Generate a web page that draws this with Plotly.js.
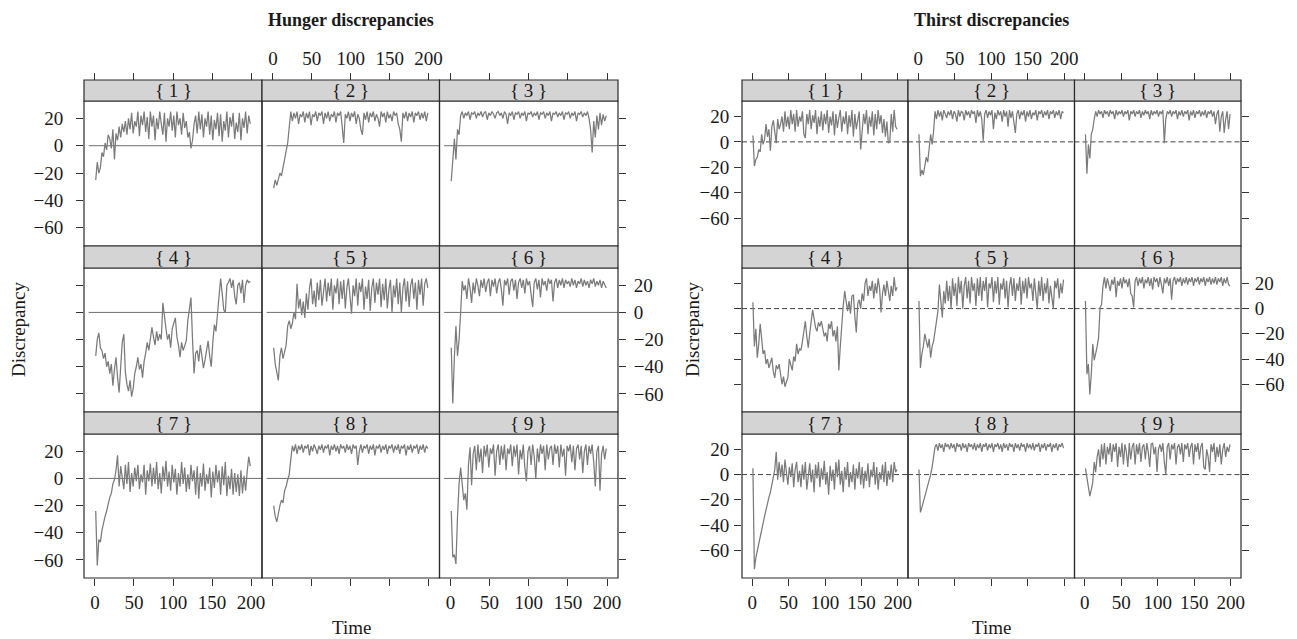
<!DOCTYPE html>
<html><head><meta charset="utf-8">
<script src="https://cdn.plot.ly/plotly-3.0.1.min.js"></script>
<style>html,body{margin:0;padding:0;background:#fff}</style>
</head><body><div id="chart" style="width:1297px;height:639px"></div>
<script>
// Time points (every 2nd step)
const TIME = [1,3,5,7,9,11,13,15,17,19,21,23,25,27,29,31,33,35,37,39,41,43,45,47,49,51,53,55,57,59,61,63,65,67,69,71,73,75,77,79,81,83,85,87,89,91,93,95,97,99,101,103,105,107,109,111,113,115,117,119,121,123,125,127,129,131,133,135,137,139,141,143,145,147,149,151,153,155,157,159,161,163,165,167,169,171,173,175,177,179,181,183,185,187,189,191,193,195,197,199];
const X_TICKS = [0,50,100,150,200];
const Y_TICKS = [-60,-40,-20,0,20];
const STRIP_LABELS = ['{ 1 }','{ 2 }','{ 3 }','{ 4 }','{ 5 }','{ 6 }','{ 7 }','{ 8 }','{ 9 }'];
const FIG_TITLES = ['Hunger discrepancies','Thirst discrepancies'];

// Hunger discrepancies, subjects 1-9
const hunger1 = [-25,-12,-20,-16,-5,-8,2,-3,8,5, -2,12,-10,9,4,14,6,16,10,18, 8,20,12,24,9,18,14,25,7,22, 15,25,10,21,5,25,14,22,4,20, 12,25,16,8,24,3,20,14,25,11, 22,6,25,15,20,8,24,13,18,6, 10,-2,4,16,22,9,25,12,23,6, 20,14,25,8,22,4,19,12,24,7, 23,3,18,11,25,6,21,14,24,5, 17,10,24,4,20,13,25,9,22,16];
const hunger2 = [-31,-25,-29,-24,-20,-22,-15,-10,-4,2, 12,25,18,24,20,25,16,23,21,25, 17,24,20,25,15,23,21,25,18,24, 22,25,16,24,20,25,18,23,21,25, 17,24,22,25,14,2,23,20,25,18, 24,21,25,16,23,20,12,8,24,19, 25,17,24,21,25,18,23,20,14,25, 21,24,17,25,20,23,18,25,22,24, 16,12,3,24,20,25,18,24,21,25, 17,24,22,25,19,24,20,25,18,24];
const hunger3 = [-26,-8,5,-10,12,8,22,25,20,24, 22,25,19,24,23,25,20,24,22,25, 21,24,25,19,24,22,25,23,20,24, 25,22,24,20,25,23,16,24,22,25, 19,24,23,25,20,24,22,25,18,24, 23,25,21,24,22,25,19,24,23,25, 20,24,22,25,18,24,23,25,21,24, 22,25,19,24,23,25,20,24,22,25, 18,24,23,25,21,24,22,25,20,12, -5,18,6,22,12,24,15,23,18,22];
const hunger4 = [-32,-20,-15,-26,-28,-34,-30,-40,-36,-45, -38,-54,-42,-33,-48,-59,-40,-22,-16,-44, -53,-58,-50,-62,-56,-45,-40,-33,-42,-38, -48,-36,-30,-22,-28,-20,-11,-18,-24,-14, -21,-16,-20,7,-4,-12,-20,-16,-26,-12, -8,-4,-18,-24,-33,-22,-28,-24,-21,-6, 4,11,-20,-45,-30,-28,-36,-24,-32,-41, -35,-28,-21,-32,-40,-22,-9,-14,-2,8, 25,14,2,0,20,22,25,18,24,12, 6,20,22,14,24,7,20,24,22,23];
const hunger5 = [-26,-38,-44,-50,-32,-26,-34,-28,-24,-10, -6,-12,-8,0,-5,21,3,10,-2,8, -4,14,2,18,25,6,16,4,22,9, 24,5,18,25,8,22,12,25,2,20, 14,25,6,23,10,24,3,18,25,8, -1,20,12,25,5,22,15,25,2,19, 10,24,1,18,25,7,22,13,25,4, 21,9,25,3,17,24,0,20,11,25, 6,22,0,18,25,8,23,4,20,25, 10,22,2,24,13,25,5,21,25,18];
const hunger6 = [-26,-67,-33,-10,-32,-20,0,23,16,20, 10,25,18,7,22,14,25,20,12,24, 18,25,15,22,25,12,24,19,25,14, 22,25,17,5,24,20,25,13,23,25, 16,24,10,22,25,18,24,14,25,20, 23,12,4,22,25,17,24,11,25,20, 23,16,25,21,24,8,22,25,18,24, 20,25,18,24,21,23,19,25,20,24, 18,23,21,25,19,24,20,23,18,24, 21,25,19,23,20,24,18,23,21,18];
const hunger7 = [-24,-64,-45,-47,-38,-32,-28,-24,-18,-14, -11,-4,-1,6,17,-6,9,2,-8,10, -4,12,-10,4,-6,8,-2,10,-8,3, -3,10,-12,6,-2,11,-6,8,-4,12, -8,4,-11,9,-2,13,-6,5,-9,10, -3,7,-12,4,-6,12,-4,8,-10,3, -8,10,-2,6,-12,9,-15,4,-6,11, -9,3,-4,8,-14,5,-7,10,-3,6, -12,9,-5,12,-13,2,-8,7,-12,4, -10,3,-13,6,-11,2,-9,5,16,9];
const hunger8 = [-20,-28,-32,-25,-20,-16,-18,-9,-6,-1, 3,14,24,20,25,18,24,21,25,19, 24,22,25,17,24,20,25,22,18,24, 21,25,19,24,22,25,17,24,21,25, 20,24,18,25,22,24,19,25,21,24, 18,25,22,24,10,20,25,19,24,22, 25,18,24,21,25,17,24,22,25,19, 24,21,25,18,24,22,25,19,24,21, 25,18,24,22,25,17,24,21,25,19, 24,22,25,18,24,21,25,19,24,22];
const hunger9 = [-24,-58,-56,-63,-28,-4,8,-2,-16,-11, -23,10,23,-5,18,24,6,25,12,22, 4,24,16,25,8,22,18,25,2,20, 25,10,24,14,25,6,22,18,25,9, 24,16,25,3,21,14,25,8,-2,20, 24,10,25,16,0,22,12,25,18,24, 6,25,14,22,24,10,25,18,24,8, 25,16,22,2,24,20,25,12,24,6, 22,25,14,24,4,20,25,10,24,18, 25,12,-6,20,24,-9,18,24,14,22];

// Thirst discrepancies, subjects 1-9
const thirst1 = [5,-19,-14,-12,-6,-8,6,-2,2,14, 4,10,-7,12,17,6,-1,18,10,14, 20,8,24,12,20,10,25,14,22,8, 25,12,20,16,24,6,3,22,14,25, 10,21,15,25,6,20,12,24,9,22, 14,25,7,20,13,24,5,22,11,19, 25,8,20,14,24,6,21,12,25,4, 22,10,18,24,-6,8,22,14,25,6, 20,12,24,5,22,10,25,14,21,7, 18,4,16,-1,0,22,8,25,12,10];
const thirst2 = [6,-27,-22,-26,-19,-12,-16,-4,6,-2, 8,24,18,25,20,24,17,25,22,19, 24,21,25,18,24,22,16,25,20,24, 23,17,25,21,24,19,25,22,24,15, 25,20,24,18,1,22,25,19,24,21, 25,10,23,18,25,21,24,16,25,20, 24,12,25,19,24,14,7,22,25,18, 24,21,25,16,24,20,25,18,23,21, 25,17,24,22,25,19,24,21,25,18, 24,22,25,19,24,21,25,18,24,23];
const thirst3 = [6,-25,-2,-13,6,10,18,24,20,25, 22,24,19,25,22,24,20,25,22,24, 18,25,21,24,22,25,20,24,22,25, 17,24,22,25,20,24,22,25,19,24, 21,25,22,24,18,25,21,24,22,25, 20,24,22,25,-1,18,24,22,25,20, 24,22,25,18,24,21,25,20,24,22, 25,17,24,21,25,19,24,22,25,20, 24,21,25,19,24,22,25,20,24,14, 22,25,8,20,24,7,18,24,10,22];
const thirst4 = [5,-30,-16,-39,-28,-12,-24,-36,-33,-44, -40,-47,-43,-39,-50,-55,-45,-48,-44,-52, -60,-54,-62,-58,-55,-40,-46,-49,-38,-42, -28,-36,-32,-33,-26,-18,-10,-22,-31,-20, -12,-1,-8,-15,-18,-11,-14,-10,-16,-22, -19,-26,-12,-16,-10,-22,-17,-26,-14,-49, -30,-10,2,14,4,-2,6,-4,10,11, -6,-19,4,7,0,12,6,20,24,10, 18,14,22,8,20,12,24,16,-3,12, 19,10,22,14,6,18,10,25,14,17];
const thirst5 = [6,-47,-36,-30,-20,-26,-31,-24,-39,-30, -26,-18,-10,-2,19,8,-7,14,4,22, 6,18,0,24,10,20,2,25,12,22, 0,18,25,8,22,4,25,14,20,2, 24,10,25,6,22,14,25,1,20,16, 25,5,22,12,25,3,20,15,24,8, 22,1,18,25,10,24,6,20,14,25, 3,22,12,24,8,25,16,20,6,24, 14,0,22,10,25,6,20,12,24,4, 18,10,0,22,16,24,8,20,12,23];
const thirst6 = [6,-52,-44,-68,-52,-28,-41,-36,-30,-23, 1,3,18,25,16,24,20,14,23,19, 25,9,22,18,24,16,25,20,23,17, 24,12,10,1,22,25,18,24,20,25, 16,23,20,25,18,24,15,25,21,24, 17,25,19,12,24,20,25,18,24,7, 22,25,19,24,21,25,18,24,20,25, 19,24,21,25,18,24,21,25,19,24, 21,25,18,24,21,25,19,24,20,25, 19,24,21,25,18,24,20,25,19,18];
const thirst7 = [5,-75,-66,-60,-55,-48,-42,-38,-33,-28, -22,-18,-14,-8,-3,4,18,-4,10,-2, 8,-6,12,0,-8,6,-2,9,-10,4, 10,-6,3,-10,8,-4,10,-12,2,9, -6,4,-14,8,-3,10,-10,5,-4,11, -8,2,-16,7,-5,4,-12,10,-2,12, -8,3,-14,6,-4,10,-10,2,-6,8, -12,5,-3,10,-8,6,-11,3,-5,9, -10,4,-2,10,-8,6,-12,2,-4,8, -6,10,-9,3,-4,8,-6,10,2,4];
const thirst8 = [4,-30,-26,-22,-18,-13,-9,-5,0,6, 14,22,24,19,25,21,24,18,25,22, 24,20,25,21,24,18,25,22,24,19, 25,21,24,18,25,22,24,20,25,19, 24,21,25,18,24,22,25,19,24,21, 25,18,24,22,25,20,24,18,25,21, 24,19,25,22,24,18,25,21,24,19, 25,22,24,18,25,21,24,20,25,19, 24,22,25,18,24,21,25,19,24,22, 25,18,24,21,25,19,24,22,25,21];
const thirst9 = [5,-2,-10,-17,-12,-6,10,2,14,20, 6,24,12,25,8,22,16,25,10,24, 18,25,6,22,14,25,8,24,18,6, 25,12,22,25,8,24,16,25,10,22, 24,12,25,18,6,24,25,16,22,2, 20,24,18,25,10,0,22,25,12,24, 20,25,8,22,24,16,25,10,24,20, 25,14,22,25,8,24,18,25,12,22, 25,6,4,20,14,2,24,18,25,10, 22,14,24,8,20,25,14,22,18,24];

const HUNGER = [hunger1,hunger2,hunger3,hunger4,hunger5,hunger6,hunger7,hunger8,hunger9];
const THIRST = [thirst1,thirst2,thirst3,thirst4,thirst5,thirst6,thirst7,thirst8,thirst9];

// ---- layout geometry (pixels) ----
const W = 1297, H = 639;
const px = v => v / W, py = v => 1 - v / H;
const COLS = [
  [[84,262],[262,439.5],[439.5,618]],
  [[742,908],[908,1074.5],[1074.5,1241]]
];
const ROWS = [[101,246],[268,412],[434,578]];
const STRIPS = [[80,101],[246,268],[412,434]];
const XRANGE = [-14,214];
const YRANGES = [[-73.3,32.7],[-82,32.2]];
const FONT = 'Liberation Serif, Times New Roman, serif';
const TXT = '#1a1a1a';

const traces = [], shapes = [], annotations = [];
const layout = {
  width: W, height: H, autosize: false,
  margin: {l:0,r:0,t:0,b:0},
  paper_bgcolor: '#fff', plot_bgcolor: '#fff',
  showlegend: false,
  font: {family: FONT, size: 19, color: TXT}
};

[HUNGER, THIRST].forEach((series, f) => {
  series.forEach((vals, p) => {
    const idx = f*9 + p + 1;
    const r = Math.floor(p/3), c = p % 3;
    const xs = idx === 1 ? '' : String(idx);
    const col = COLS[f][c], row = ROWS[r];
    traces.push({
      x: TIME, y: vals, type: 'scatter', mode: 'lines',
      xaxis: 'x'+xs, yaxis: 'y'+xs,
      line: {color: '#7b7b7b', width: 1.25},
      hoverinfo: 'skip'
    });
    const xa = {
      domain: [px(col[0]), px(col[1])], range: XRANGE, anchor: 'y'+xs,
      showgrid: false, zeroline: false, showline: false,
      tickvals: X_TICKS, ticks: '', showticklabels: false,
      tickfont: {family: FONT, size: 19, color: TXT},
      tickcolor: '#333', ticklen: 7, tickwidth: 1
    };
    if (r === 0) {
      xa.side = 'top'; xa.anchor = 'free'; xa.position = py(STRIPS[0][0]);
      xa.ticks = 'outside'; xa.showticklabels = (c === 1);
    } else if (r === 2) {
      xa.ticks = 'outside'; xa.showticklabels = (c !== 1);
    }
    const ya = {
      domain: [py(row[1]), py(row[0])], range: YRANGES[f], anchor: 'x'+xs,
      showgrid: false, zeroline: false, showline: false,
      tickvals: Y_TICKS, ticks: '', showticklabels: false,
      tickfont: {family: FONT, size: 19, color: TXT},
      tickcolor: '#333', ticklen: 7, tickwidth: 1,
      ticklabelstandoff: f === 0 ? 9 : 1
    };
    if (c === 0) { ya.side = 'left'; ya.ticks = 'outside'; ya.showticklabels = (r !== 1); }
    else if (c === 2) { ya.side = 'right'; ya.ticks = 'outside'; ya.showticklabels = (r === 1); ya.ticklabelstandoff = f === 0 ? 4 : 2; }
    layout['xaxis'+xs] = xa;
    layout['yaxis'+xs] = ya;

    shapes.push({
      type: 'line', xref: 'x'+xs, yref: 'y'+xs, layer: 'below',
      x0: f === 0 ? -8 : XRANGE[0], x1: XRANGE[1], y0: 0, y1: 0,
      line: f === 0 ? {color: '#6e6e6e', width: 1} : {color: '#444', width: 1, dash: '5px,3px'}
    });
    shapes.push({
      type: 'rect', xref: 'paper', yref: 'paper',
      x0: px(col[0]), x1: px(col[1]), y0: py(row[1]), y1: py(row[0]),
      line: {color: '#2a2a2a', width: 1.2}, fillcolor: 'rgba(0,0,0,0)'
    });
    const st = STRIPS[r];
    shapes.push({
      type: 'rect', xref: 'paper', yref: 'paper',
      x0: px(col[0]), x1: px(col[1]), y0: py(st[1]), y1: py(st[0]),
      line: {color: '#2a2a2a', width: 1.2}, fillcolor: '#d4d4d4'
    });
    annotations.push({
      xref: 'paper', yref: 'paper', x: px((col[0]+col[1])/2), y: py((st[0]+st[1])/2),
      text: STRIP_LABELS[p], showarrow: false, xanchor: 'center', yanchor: 'middle',
      font: {family: FONT, size: 19, color: TXT}
    });
  });
  const left = COLS[f][0][0], right = COLS[f][2][1];
  const cx = (left + right) / 2;
  annotations.push({
    xref: 'paper', yref: 'paper', x: px(cx), y: py(20), text: FIG_TITLES[f],
    showarrow: false, xanchor: 'center', yanchor: 'middle',
    font: {family: FONT, size: 18, color: TXT, weight: 'bold'}
  });
  annotations.push({
    xref: 'paper', yref: 'paper', x: px(cx), y: py(627), text: 'Time',
    showarrow: false, xanchor: 'center', yanchor: 'middle',
    font: {family: FONT, size: 19, color: TXT}
  });
  annotations.push({
    xref: 'paper', yref: 'paper', x: px(f === 0 ? 18 : 692), y: py(330), text: 'Discrepancy',
    showarrow: false, xanchor: 'center', yanchor: 'middle', textangle: -90,
    font: {family: FONT, size: 19, color: TXT}
  });
});

layout.shapes = shapes;
layout.annotations = annotations;
Plotly.newPlot('chart', traces, layout, {staticPlot: true, displayModeBar: false});
</script>
</body></html>
